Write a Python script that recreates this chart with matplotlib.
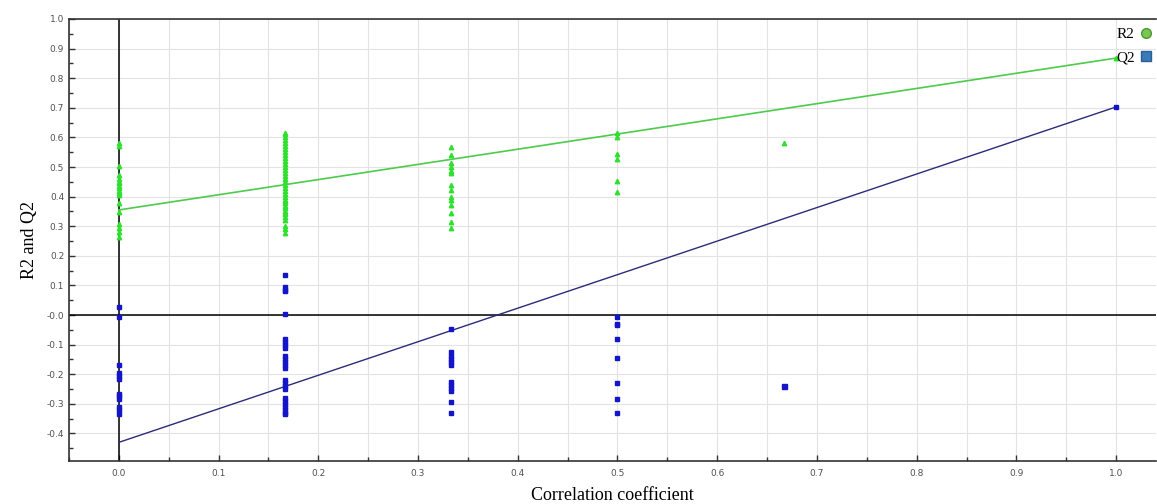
import numpy as np
import matplotlib
matplotlib.use("Agg")
import matplotlib.pyplot as plt
from matplotlib.ticker import MultipleLocator, FixedLocator
from matplotlib.lines import Line2D

# permutation test: correlation of permuted y with original y
corr_levels = [0.0, 1 / 6, 1 / 3, 0.5, 2 / 3, 1.0]

r2_vals = [
    [0.580, 0.572, 0.504, 0.473, 0.460, 0.450, 0.445, 0.435, 0.428, 0.420, 0.412,
     0.405, 0.377, 0.347, 0.307, 0.293, 0.281, 0.262],
    [0.615, 0.610, 0.600, 0.590, 0.580, 0.570, 0.560, 0.550, 0.540, 0.530, 0.520,
     0.510, 0.500, 0.490, 0.480, 0.470, 0.460, 0.450, 0.440, 0.430, 0.420, 0.410,
     0.400, 0.390, 0.385, 0.380, 0.370, 0.360, 0.350, 0.345, 0.340, 0.330, 0.320,
     0.300, 0.290, 0.277],
    [0.569, 0.541, 0.515, 0.501, 0.488, 0.479, 0.439, 0.422, 0.400, 0.389, 0.372,
     0.344, 0.315, 0.293],
    [0.614, 0.600, 0.544, 0.527, 0.453, 0.417],
    [0.580],
    [0.868],
]

q2_vals = [
    [0.028, -0.008, -0.170, -0.195, -0.205, -0.215, -0.265, -0.275, -0.285, -0.310,
     -0.320, -0.335],
    [0.135, 0.095, 0.085, 0.080, 0.003, -0.080, -0.090, -0.100, -0.110, -0.140,
     -0.150, -0.160, -0.170, -0.180, -0.220, -0.230, -0.240, -0.250, -0.280, -0.290,
     -0.300, -0.310, -0.320, -0.330, -0.335],
    [-0.047, -0.125, -0.140, -0.150, -0.160, -0.170, -0.225, -0.235, -0.245, -0.255,
     -0.295, -0.330],
    [-0.005, -0.030, -0.035, -0.080, -0.145, -0.230, -0.285, -0.330],
    [-0.239],
    [0.703],
]

# fitted lines, value at corr = 0 and corr = 1
r2_line = [0.355, 0.868]
q2_line = [-0.430, 0.703]

green_pts = "#2fe02f"
green_line = "#4ccc4c"
blue_pts = "#1414c8"
blue_line = "#2b2b7a"

fig = plt.figure(figsize=(11.57, 5.04), dpi=100)
ax = fig.add_axes([69 / 1157, 43 / 504, 1087 / 1157, 442 / 504])

for x, ys in zip(corr_levels, r2_vals):
    ax.plot([x] * len(ys), ys, linestyle="none", marker="^", ms=3.2,
            color=green_pts, zorder=4)
for x, ys in zip(corr_levels, q2_vals):
    # the lone point at 2/3 is drawn a bit larger
    size = 3.6 if len(ys) == 1 and x < 1 else 2.8
    ax.plot([x] * len(ys), ys, linestyle="none", marker="s", ms=size,
            color=blue_pts, zorder=4)

ax.plot([0, 1], r2_line, color=green_line, lw=1.2, zorder=3)
ax.plot([0, 1], q2_line, color=blue_line, lw=1.0, zorder=3)

ax.axhline(0, color="black", lw=1.1, zorder=2)
ax.axvline(0, color="black", lw=1.1, zorder=2)

ax.set_xlim(-0.05, 1.04)
ax.set_ylim(-0.493, 1.0)

ax.xaxis.set_major_locator(MultipleLocator(0.1))
ax.xaxis.set_minor_locator(MultipleLocator(0.05))
ax.yaxis.set_major_locator(FixedLocator(np.round(np.arange(-0.4, 1.01, 0.1), 2)))
ax.yaxis.set_minor_locator(MultipleLocator(0.05))

ax.set_xticklabels([f"{v:.1f}" for v in ax.get_xticks()])
ax.set_yticklabels(["-0.0" if abs(v) < 1e-9 else f"{v:.1f}" for v in ax.get_yticks()])

ax.grid(True, which="major", axis="y", color="#e3e3e3", lw=0.8, zorder=0)
ax.grid(True, which="both", axis="x", color="#e3e3e3", lw=0.8, zorder=0)

ax.tick_params(which="major", direction="in", length=4, width=1, labelsize=6.5,
               labelcolor="#505050", color="#333333")
ax.tick_params(which="minor", direction="in", length=3, width=1, color="#333333")
ax.tick_params(axis="x", pad=6)

for side in ["left", "bottom", "top"]:
    ax.spines[side].set_color("#333333")
    ax.spines[side].set_linewidth(1.2)
ax.spines["right"].set_visible(False)

ax.set_xlabel("Correlation coefficient", family="Liberation Serif", fontsize=13,
              labelpad=6)
ax.set_ylabel("R2 and Q2", family="Liberation Serif", fontsize=13, labelpad=6)

handles = [
    Line2D([], [], linestyle="none", marker="o", ms=7, color="#79c653",
           markeredgecolor="#4c9a34", label="R2"),
    Line2D([], [], linestyle="none", marker="s", ms=7, color="#3b79b8",
           markeredgecolor="#2c5f94", label="Q2"),
]
ax.legend(handles=handles, loc="upper right", bbox_to_anchor=(1.003, 0.998),
          frameon=False, markerfirst=False,
          prop={"family": "Liberation Serif", "size": 11}, handletextpad=0.3,
          labelspacing=0.6, borderaxespad=0.1, handlelength=0.8)

fig.savefig("out.png", dpi=100)
